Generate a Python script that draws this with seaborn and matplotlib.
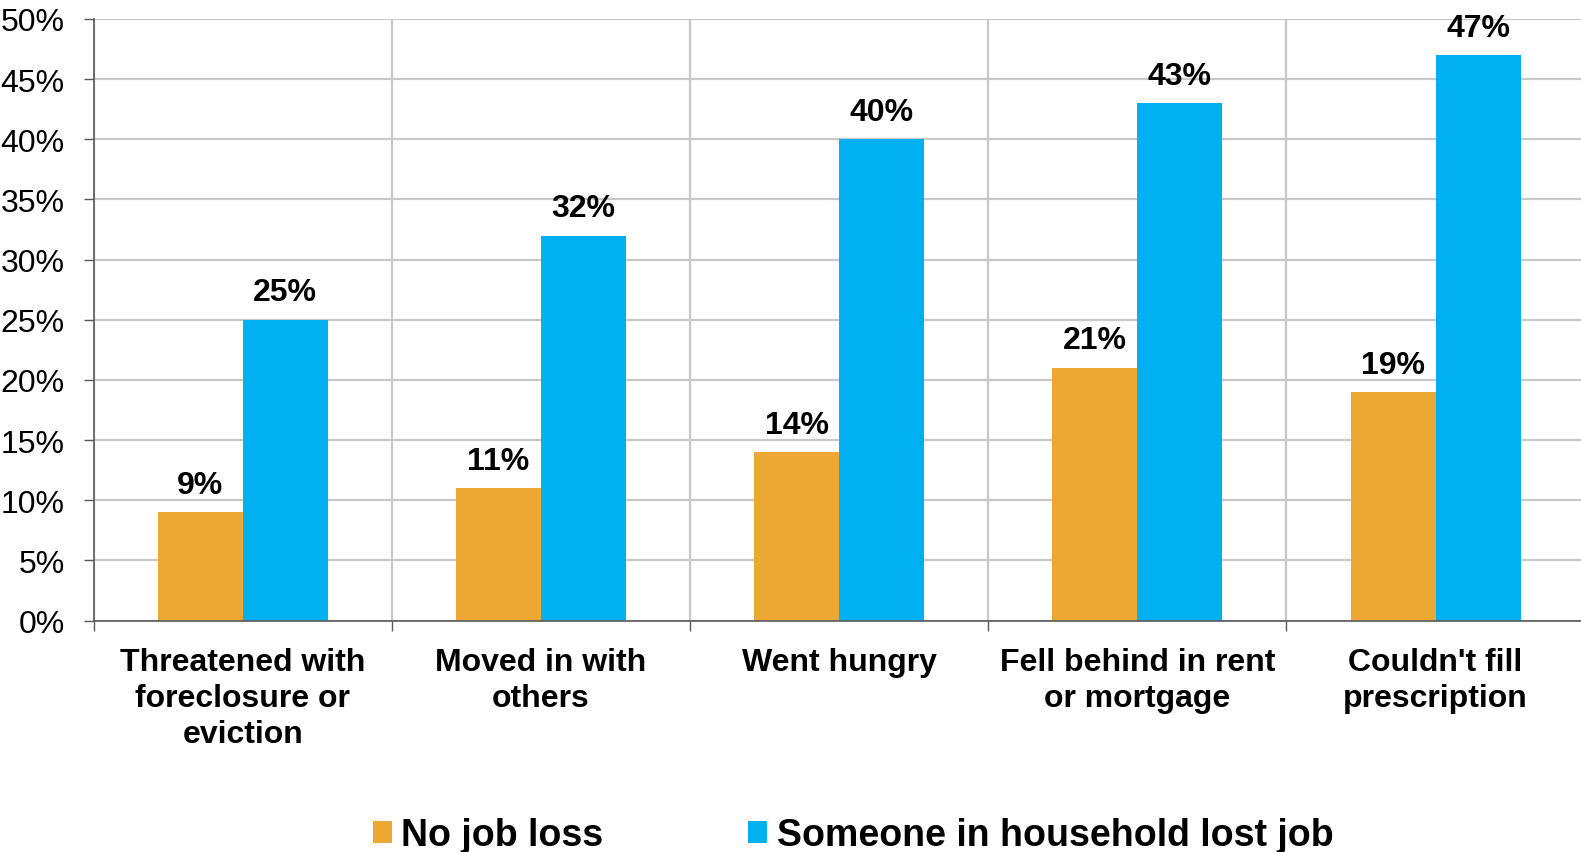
import numpy as np
import pandas as pd
import matplotlib.pyplot as plt
import seaborn as sns
from matplotlib.ticker import FuncFormatter, FixedLocator

categories = ["Threatened with\nforeclosure or\neviction", "Moved in with\nothers", "Went hungry",
              "Fell behind in rent\nor mortgage", "Couldn't fill\nprescription"]
no_job_loss = [9, 11, 14, 21, 19]
lost_job = [25, 32, 40, 43, 47]
series = ["No job loss", "Someone in household lost job"]
colors = ["#EDA733", "#00B0F0"]

df = pd.DataFrame({
    "category": categories * 2,
    "value": no_job_loss + lost_job,
    "group": [series[0]] * 5 + [series[1]] * 5,
})

sns.set_style("white")
plt.rcParams['font.family'] = ['Liberation Sans', 'DejaVu Sans']
plt.rcParams['text.color'] = 'black'
plt.rcParams['xtick.labelcolor'] = 'black'
plt.rcParams['ytick.labelcolor'] = 'black'

fig = plt.figure(figsize=(15.81, 8.53), dpi=100)
ax = fig.add_axes([0.0593, 0.2712, 0.9430, 0.7054])

sns.barplot(data=df, x="category", y="value", hue="group", palette=colors,
            width=0.57, gap=0, saturation=1, linewidth=0, ax=ax, legend=True)

for c in ax.containers:
    ax.bar_label(c, labels=[f"{v:.0f}%" for v in c.datavalues], padding=9,
                 fontsize=23, fontweight="bold", color="black")

ax.set_xlim(-0.5, 4.5)
ax.set_ylim(0, 50)
ax.set_yticks(np.arange(0, 51, 5))
ax.yaxis.set_major_formatter(FuncFormatter(lambda v, p: f"{v:.0f}%"))
ax.set_xlabel("")
ax.set_ylabel("")

ax.xaxis.set_minor_locator(FixedLocator(np.arange(-0.5, 4.6, 1)))
ax.tick_params(axis="x", which="major", length=0, pad=19, labelsize=23)
ax.tick_params(axis="x", which="minor", length=7, width=1, color="#595959", direction="out", bottom=True)
ax.tick_params(axis="y", length=7, width=1, color="#595959", direction="out", left=True, pad=14)
for lbl in ax.get_xticklabels():
    lbl.set_fontweight("bold")
    lbl.set_linespacing(1.25)
for lbl in ax.get_yticklabels():
    lbl.set_fontsize(23)

ax.grid(axis="y", which="major", color="#C8C8C8", linewidth=1.6)
ax.grid(axis="x", which="minor", color="#C8C8C8", linewidth=1.6)
ax.grid(axis="x", which="major", visible=False)
ax.set_axisbelow(True)

for s in ["top", "right"]:
    ax.spines[s].set_visible(False)
for s in ["left", "bottom"]:
    ax.spines[s].set_color("#595959")
    ax.spines[s].set_linewidth(1.2)
    ax.spines[s].set_zorder(3)

handles, labels = ax.get_legend_handles_labels()
ax.get_legend().remove()
fig.legend(handles, labels, loc="center", bbox_to_anchor=(0.5395, 0.020), ncol=2, frameon=False,
           prop={"size": 27, "weight": "bold"}, handlelength=0.52, handleheight=0.52,
           handletextpad=0.25, columnspacing=3.85)

fig.savefig("out.png", dpi=100)
